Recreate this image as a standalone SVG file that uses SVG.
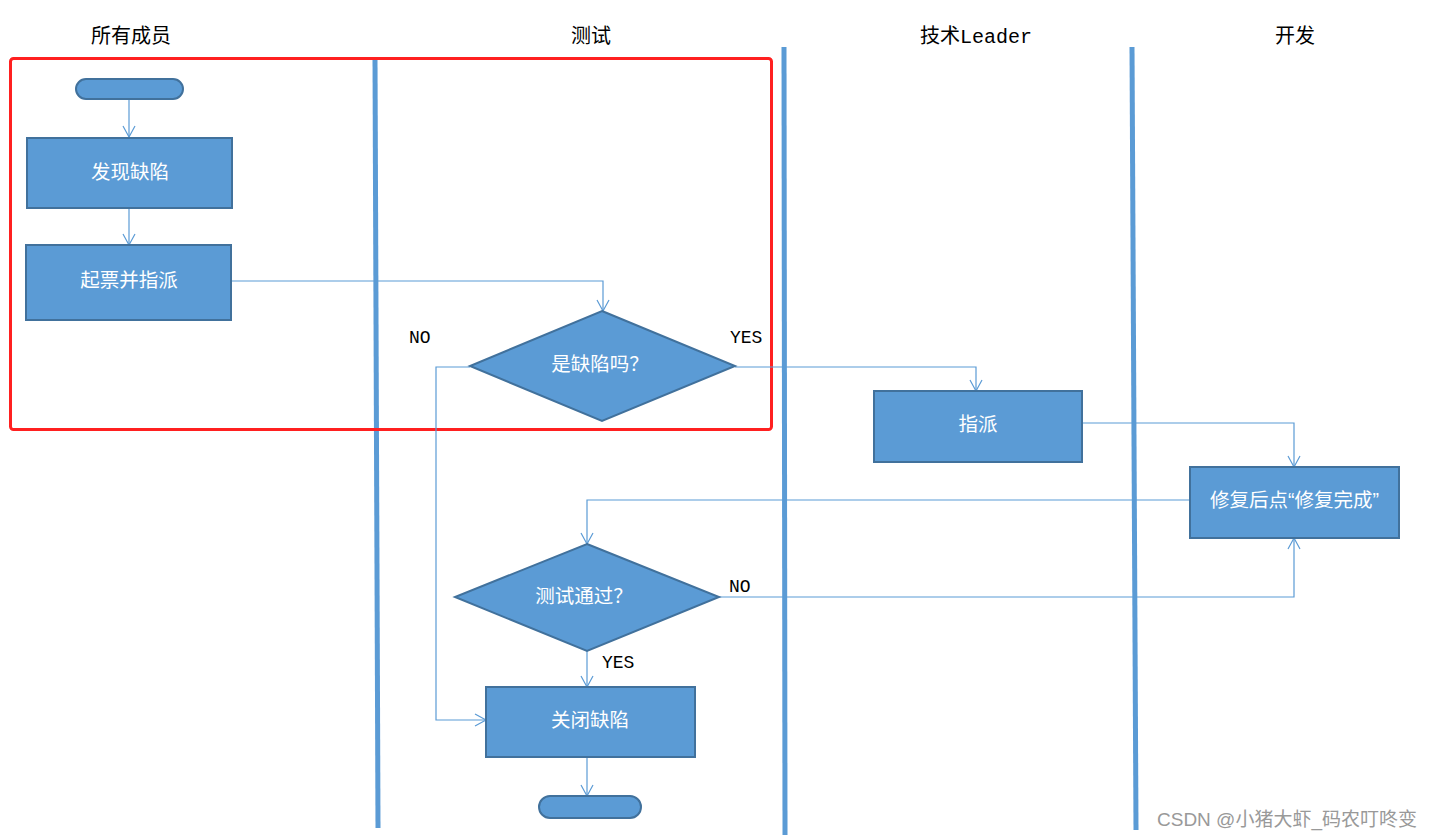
<svg xmlns="http://www.w3.org/2000/svg" width="1433" height="838" viewBox="0 0 1433 838">
<style>
.node{fill:#5b9bd5;stroke:#41719c;stroke-width:2}
.lbl{fill:#ffffff;font-family:"Liberation Sans","Noto Sans CJK SC",sans-serif;font-size:19.5px;text-anchor:middle;dominant-baseline:central}
.title{fill:#000;font-family:"Liberation Mono","Noto Sans CJK SC",monospace;font-size:20px;text-anchor:middle}
.yn{fill:#000;font-family:"Liberation Mono",monospace;font-size:18px}
.conn{fill:none;stroke:#5b9bd5;stroke-width:1.2}
.lane{stroke:#5b9bd5;stroke-width:5}
</style>
<defs>
<marker id="arr" markerWidth="14" markerHeight="14" refX="12" refY="7" orient="auto" markerUnits="userSpaceOnUse">
<path d="M1,1 L12,7 L1,13" fill="none" stroke="#5b9bd5" stroke-width="1.2"/>
</marker>
</defs>
<rect width="1433" height="838" fill="#ffffff"/>
<g id="titles">
<text class="title" x="131" y="43">所有成员</text>
<text class="title" x="591" y="43">测试</text>
<text class="title" x="976" y="43">技术Leader</text>
<text class="title" x="1295" y="43">开发</text>
</g>
<g id="lanes">
<line class="lane" x1="375" y1="58" x2="378" y2="828"/>
<line class="lane" x1="784" y1="47" x2="785" y2="835"/>
<line class="lane" x1="1132" y1="47" x2="1136" y2="830"/>
</g>
<rect id="highlight" x="10.5" y="58.5" width="761" height="371" rx="3" fill="none" stroke="#ff2020" stroke-width="3"/>
<g id="connectors">
<path class="conn" d="M129,99 L129,137" marker-end="url(#arr)"/>
<path class="conn" d="M129,208 L129,245" marker-end="url(#arr)"/>
<path class="conn" d="M231,281 L603,281 L603,311" marker-end="url(#arr)"/>
<path class="conn" d="M470,367 L436,367 L436,720 L486,720" marker-end="url(#arr)"/>
<path class="conn" d="M735,367 L976,367 L976,391" marker-end="url(#arr)"/>
<path class="conn" d="M1082,423 L1294,423 L1294,467" marker-end="url(#arr)"/>
<path class="conn" d="M1190,500 L587,500 L587,544" marker-end="url(#arr)"/>
<path class="conn" d="M719,597 L1294,597 L1294,538" marker-end="url(#arr)"/>
<path class="conn" d="M587,651 L587,687" marker-end="url(#arr)"/>
<path class="conn" d="M587,757 L587,796" marker-end="url(#arr)"/>
<text class="yn" x="409" y="343">NO</text>
<text class="yn" x="730" y="343">YES</text>
<text class="yn" x="729" y="592">NO</text>
<text class="yn" x="602" y="668">YES</text>
</g>
<g id="start"><rect class="node" x="76" y="79" width="107" height="20" rx="10"/></g>
<g id="discover"><rect class="node" x="27" y="138" width="205" height="70"/><text class="lbl" x="130" y="172">发现缺陷</text></g>
<g id="ticket"><rect class="node" x="26" y="245" width="205" height="75"/><text class="lbl" x="129" y="280">起票并指派</text></g>
<g id="isdefect"><polygon class="node" points="602,311 735,366 602,421 470,366"/><text class="lbl" x="600" y="364">是缺陷吗？</text></g>
<g id="assign"><rect class="node" x="874" y="391" width="208" height="71"/><text class="lbl" x="978" y="424">指派</text></g>
<g id="fix"><rect class="node" x="1190" y="467" width="209" height="71"/><text class="lbl" x="1294.5" y="500">修复后点“修复完成”</text></g>
<g id="testpass"><polygon class="node" points="587,544 719,597 587,651 455,597"/><text class="lbl" x="584" y="596">测试通过？</text></g>
<g id="close"><rect class="node" x="486" y="687" width="209" height="70"/><text class="lbl" x="590" y="720">关闭缺陷</text></g>
<g id="end"><rect class="node" x="539" y="796" width="102" height="22" rx="11"/></g>
<text x="1157" y="826" fill="#999999" font-family="'Liberation Sans','Noto Sans CJK SC',sans-serif" font-size="19">CSDN @小猪大虾_码农叮咚变</text>
</svg>
